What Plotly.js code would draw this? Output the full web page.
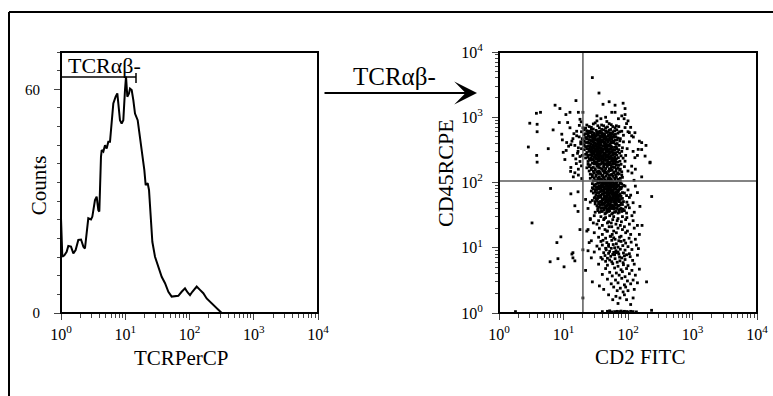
<!DOCTYPE html>
<html><head><meta charset="utf-8">
<script src="https://cdn.plot.ly/plotly-3.0.1.min.js"></script>
<style>html,body{margin:0;padding:0;background:#fff;}#chart{width:773px;height:396px;}</style>
</head><body><div id="chart"></div>
<script>
// ---------- Histogram (TCR PerCP) ----------
const histX = [1.00,1.049,1.127,1.225,1.30,1.43,1.556,1.69,1.86,2.05,2.23,2.36,2.54,2.66,2.93,3.07,3.38,3.59,3.81,3.95,4.19,4.30,4.56,4.84,5.14,5.45,5.79,6.15,6.52,7.09,7.53,7.80,8.28,8.79,9.33,9.91,10.28,10.77,11.44,11.86,12.59,13.36,14.18,15.61,16.98,18.45,19.82,20.79,22.34,23.43,25.17,26.40,29.05,32.7,36.9,41.6,46.9,52.8,59.5,67.0,75.5,85.1,93.6,101.8,110.7,121.8,129.4,145.6,164.1,184.9,208.4,234.9,264.7,298.5,316.8,330];
const histY = [25.4,15.1,15.5,16.4,18.0,17.8,16.0,16.9,19.6,19.7,17.8,17.3,22.3,25.4,25.1,25.8,30.3,31.2,27.6,27.2,41.9,43.7,43.3,45.0,44.1,45.9,45.9,52.6,56.2,58.0,58.9,56.2,51.7,50.8,51.7,59.8,63.4,58.0,58.9,60.2,59.8,57.1,53.5,51.7,47.3,42.8,38.3,34.3,34.8,33.0,24.9,19.1,15.1,12.4,9.7,8.0,5.7,4.4,4.4,4.6,5.7,6.6,5.5,4.8,5.7,6.6,7.1,6.2,5.3,3.9,3.0,2.1,1.3,0.4,0,0];
const gateLo = 1, gateHi = 14.7, gateY = 63.3, gateTickLo = 61.7, gateTickHi = 64.4;
const gateLabel = 'TCRαβ-';

// ---------- Scatter (CD2 FITC vs CD45RC PE) ----------
const coreX = [
 23,27,31,36,42,48,55,63,72,33, 21,25,29,34,39,45,51,58,67,80, 22,26,30,35,40,47,53,60,70,44,
 24,28,32,37,43,49,56,65,76,30, 20,23,27,31,35,40,46,52,59,68, 22,25,29,33,38,43,50,57,64,85,
 21,24,28,32,36,41,47,54,62,73, 23,26,30,34,39,44,51,58,67,34, 25,28,31,35,40,46,52,60,69,80,
 22,26,29,33,37,42,48,55,63,45, 24,27,32,36,41,47,53,61,71,38, 26,30,34,38,43,49,56,64,75,31,
 28,32,36,40,45,51,58,66,78,42, 25,29,33,37,42,48,54,62,70,88, 27,31,35,39,44,50,57,65,74,36,
 30,34,38,43,48,54,61,69,80,41, 32,36,41,46,52,58,66,76,28,49, 35,39,44,50,56,63,72,31,47,54,
 25,29,34,39,45,51,58,66,22,47, 23,27,32,37,42,48,54,62,74,28, 21,24,28,33,38,43,50,56,64,85,
 22,26,30,34,40,46,52,60,70,38, 21,25,29,33,37,43,49,55,63,75, 20,24,27,31,35,40,46,53,60,68,
 22,26,30,34,38,44,50,57,66,82, 21,24,28,32,36,41,47,54,62,72, 23,27,30,33,38,43,49,56,64,74,
 24,28,31,35,39,45,51,58,67,78, 22,25,30,34,39,44,50,57,66,84, 24,28,32,36,41,46,52,60,69,90,
 26,30,34,38,43,48,55,62,72,24, 27,31,35,40,45,51,58,66,76,23, 29,33,37,41,46,53,60,69,80,25,
 28,32,36,40,45,51,57,64,73,26, 30,34,38,43,49,55,62,70,26,82, 33,37,41,46,52,59,67,76,29,42];
const coreY = [
 760,700,820,690,740,710,770,690,720,880, 640,610,660,600,650,620,630,600,640,610, 560,580,540,570,550,590,560,540,570,520,
 510,490,520,500,480,510,490,500,470,460, 450,470,440,460,430,450,440,460,430,450, 410,400,420,390,410,400,380,410,390,420,
 370,360,350,370,355,365,350,360,345,370, 330,320,335,315,325,330,320,310,330,340, 300,290,305,285,295,300,290,280,295,300,
 270,265,275,260,268,272,262,258,270,250, 245,240,235,248,238,242,236,230,240,225, 220,215,212,222,218,210,216,205,212,200,
 198,195,190,200,192,188,196,185,190,180, 175,170,178,168,172,176,165,170,168,175, 158,155,150,160,152,148,156,150,154,145,
 140,138,135,142,136,132,140,134,130,128, 125,122,120,126,118,124,120,116,122,114, 112,110,108,113,106,110,105,107,104,109,
 720,790,740,760,690,800,720,740,680,860, 620,650,630,610,640,600,650,620,600,590, 540,560,530,550,580,540,530,560,550,530,
 490,500,480,470,505,485,475,495,480,520, 435,455,425,445,465,425,455,425,445,435, 395,415,385,405,385,415,395,385,405,395,
 355,345,365,350,340,355,365,345,355,340, 318,328,312,328,310,318,330,322,316,318, 288,298,282,298,288,282,302,292,286,282,
 262,272,258,270,258,262,272,266,262,256, 238,232,242,230,244,228,246,238,232,236, 210,222,206,216,208,220,204,214,206,212,
 186,192,184,194,186,196,182,192,184,190, 166,162,170,162,164,160,172,162,160,168, 148,146,142,150,144,152,144,140,146,150,
 132,130,138,128,140,128,134,130,136,134, 118,116,113,119,115,112,117,112,116,120, 106,104,107,103,105,103,102,104,106,101];

const denseX = [
 24,27,30,33,36,39,43,47,52,57, 25,28,31,34,37,41,45,50,55,61, 23,26,29,32,35,38,42,46,51,56,
 24,27,30,34,37,40,44,49,54,60, 26,29,32,35,38,42,46,50,55,44, 25,28,31,35,39,43,47,52,58,33,
 27,30,33,36,40,44,48,53,59,38, 28,31,34,37,41,45,49,54,62,47, 29,32,35,39,43,47,51,56,64,36,
 30,33,37,41,44,48,53,58,66,40];
const denseY = [
 575,585,565,590,570,580,560,585,575,565, 515,525,505,530,510,520,500,525,515,505, 465,445,470,450,460,440,470,455,445,465,
 405,425,400,420,410,430,400,420,410,425, 365,375,360,380,370,360,375,365,355,380, 325,335,320,340,330,322,338,328,318,345,
 290,300,286,296,292,284,298,288,282,305, 255,265,250,262,256,248,260,252,246,268, 225,232,220,228,224,218,230,222,216,235,
 195,200,190,198,194,188,200,192,186,205];

const upperLeftX = [3.8,4.4,3.0,3.9,3.9,2.85,3.84,3.9,5.8,6.9,7.4,8.8,10.9,12.6,15.6,8.6,9.4,9.6,11.6,12.6,11.2,9.9,10.5,12.9,14.2,15,17,18,17.6,19,16,14,13,17,18.5,16.5,15.5,19,18,17,
 14.5,16,17.5,19.5,13.5,15,18.5,19,16.8,12,11,14,19.5,18,15.8,13,17,19.2,20,18.8];
const upperLeftY = [1150,1190,810,780,600,350,260,205,330,640,1530,1360,1100,1190,1800,830,550,450,830,690,410,290,225,148,122,141,1190,930,750,600,520,470,380,340,420,280,230,180,250,160,
 560,610,500,470,430,370,390,330,300,360,310,260,260,210,195,170,130,115,690,850];

const outlierX = [28,35.5,41,51,63,84,90,63,56,80,90,87,71,33,20,128,114,150,190,163,128,220,114,163,124,45,38,100,110,95,105,120,140,100,115,97,92,100,130,90,105,121,163,219,184,144];
const outlierY = [4050,2350,1580,1730,1530,1640,1360,1190,1190,1050,1100,950,950,1050,1190,580,520,430,370,320,240,205,178,122,108,1000,950,880,700,800,420,300,260,150,140,330,260,600,160,695,582,498,409,200,254,322];

const streamX = [
 28,32,36,40,45,50,56,63,71,80, 30,34,38,43,48,54,60,67,75,90, 29,33,37,42,47,52,58,65,73,38,
 31,35,39,44,49,55,62,70,82,27, 32,36,40,45,50,56,63,72,95,44, 30,34,38,42,47,53,59,66,76,105,
 33,37,41,46,51,57,64,72,85,39, 35,39,43,48,53,59,66,75,31,55, 36,40,45,50,55,61,68,78,92,47,
 34,38,42,47,52,58,65,73,88,44, 30,34,39,43,48,53,60,67,76,86, 32,36,41,45,51,57,64,71,80,28,
 31,35,40,44,49,55,61,69,78,100, 33,37,42,47,52,58,66,75,88,29, 34,38,43,48,53,59,67,78,31,110,
 32,36,40,45,50,56,62,70,82,28, 35,39,44,49,54,60,68,78,96,31, 37,41,46,51,57,63,71,82,33,100,
 38,42,47,52,58,64,72,84,34,105, 36,40,45,50,56,62,70,80,95,31,
 39,44,49,54,60,66,41,46,51,57,63,70, 38,43,48,53,59,65,42,47,52,58,64,71, 40,45,50,55,61,68,43,48,53,59,65,74,
 41,46,51,56,62,69,44,49,54,60,66,73, 42,47,52,57,63,70,45,50,55,61,67,76];
const streamY = [
 96,94,98,92,95,97,93,96,92,95, 88,86,90,84,87,85,89,86,84,88, 80,78,82,77,79,81,76,80,78,75,
 72,70,74,69,71,73,68,72,70,74, 65,63,66,62,64,66,61,64,63,60, 58,57,60,56,59,55,58,57,55,59,
 53,51,54,50,52,54,50,52,51,49, 47,46,48,45,47,44,46,45,47,43, 42,41,43,40,42,39,41,40,42,38,
 37,36,38,35,37,34,36,35,37,33, 92,97,90,96,91,93,90,91,97,90, 84,88,85,89,83,88,84,89,85,83,
 77,80,76,80,76,78,79,76,80,77, 70,72,68,71,70,69,71,67,69,69, 62,64,61,65,61,63,62,62,60,64,
 56,59,55,58,56,57,56,59,57,53, 50,52,49,53,50,51,53,49,50,51, 45,47,44,46,45,47,44,46,44,45,
 40,41,39,42,40,41,38,39,40,41, 35,36,34,36,33,35,34,36,34,35,
 99,97,100,98,96,99,90,92,89,91,93,88, 82,84,81,83,85,80,75,73,76,74,72,75, 67,69,66,68,65,67,61,63,60,62,64,61,
 56,54,57,55,53,56,51,49,52,50,48,51, 46,44,45,43,46,44,41,39,40,42,40,39];

const midX = [
 30,38,45,52,60,70,82,96,115,42, 26,35,43,50,58,68,79,92,120,55, 33,40,48,56,65,76,88,105,140,29,
 36,44,51,60,70,82,98,125,24,47, 30,40,48,57,66,78,92,110,150,53, 35,45,54,63,74,87,104,130,41,60,
 38,47,56,66,78,92,112,27,50,72, 40,50,59,70,83,100,135,33,62,45, 36,46,55,65,76,90,115,145,52,70,
 42,50,60,72,85,105,30,58,66,95, 44,54,62,74,88,108,140,38,80,48, 40,52,63,75,90,118,56,68,84,45];
const midY = [
 31,30,29,31,30,28,30,29,31,27, 27,26,28,25,27,26,25,27,26,24, 23,22,24,21,23,22,21,23,22,24,
 20,19,21,18,20,19,18,20,19,18, 17,16,18,16,17,15,17,16,16,15, 14.5,14,15,13.5,14.5,13,14,13.5,13,14.2,
 12.5,12,13,11.5,12.5,11.8,12.2,12.8,11.2,12.8, 11,10.5,11.2,10.2,10.8,10.4,11,10.6,10,9.8, 9.6,9.3,9.8,9,9.5,9.2,9.4,9.7,8.8,8.6,
 8.4,8.2,8.5,8,8.3,8.1,8.6,7.9,8.4,7.8, 7.6,7.4,7.8,7.2,7.5,7.3,7.7,7.1,7,6.9, 6.7,6.5,6.8,6.3,6.6,6.4,6.1,6,5.9,6.2];

const lowX = [35,48,58,70,85,100,125,45,62,78,95,115,150,52,66,82,105,40,57,73,90,130,48,64,80,98,120,55,70,88,110,140,60,76,92,42,68,84,100,125,50,65,88,58,75,95,120,36,70,110,
 1.8,40,48,56,62,68,74,82,88,95,100,110,120,135,232,52,78];
const lowY = [5.6,5.4,5.7,5.2,5.5,5.3,5.6,4.8,4.9,4.6,4.8,4.5,4.7,4.2,4.1,4.3,4,3.9,3.7,3.8,3.6,3.8,3.3,3.2,3.4,3.1,3.2,2.8,2.9,2.7,2.8,2.9,2.5,2.4,2.5,2.3,2.2,2.1,2.2,2.3,1.9,1.8,1.9,1.6,1.7,1.6,1.7,2.6,1.4,1.35,
 1.05,1.05,1.06,1.04,1.05,1.06,1.05,1.04,1.06,1.05,1.04,1.06,1.05,1.04,1.1,1.08,1.07];

const sparseX = [6.3,13,16.8,15,16.8,3.25,9.1,7.9,14,8.2,6.2,10.2,15,18,20,20,13.5,14, 22,24,26,23,25,27,22,28,24,26, 233,194,120,153,140,130,165,125];
const sparseY = [81,67,72,44,36,24,14.7,12,8.4,6.8,6.1,5.1,6.3,19,9.3,1.7,8,7, 55,40,28,18,12,7,4.5,3,9,50, 61,3,49,43,70,88,22,35];

const quadX = 20, quadY = 105;
const logTickVals = [1,10,100,1000,10000];
const logExponents = ['0','1','2','3','4'];
const countTickVals = [0,60];
const countTickText = ['0','60'];

const cd2 = [].concat(coreX, denseX, upperLeftX, outlierX, streamX, midX, lowX, sparseX);
const cd45 = [].concat(coreY, denseY, upperLeftY, outlierY, streamY, midY, lowY, sparseY);

// ---------- figure ----------
const W = 773, H = 396;
const px = v => v / W, py = v => 1 - v / H;
const FONT = 'Liberation Serif, Times New Roman, serif';
const logTickText = logExponents.map(e => '10<sup>' + e + '</sup>');

const traces = [
  {x: histX, y: histY, type: 'scatter', mode: 'lines', line: {color: '#000', width: 2}, xaxis: 'x', yaxis: 'y'},
  {x: [gateLo, gateHi, null, gateHi, gateHi, null, gateLo, gateLo], y: [gateY, gateY, null, gateTickLo, gateTickHi, null, gateTickLo, gateTickHi],
   type: 'scatter', mode: 'lines', line: {color: '#000', width: 1.5}, xaxis: 'x', yaxis: 'y'},
  {x: cd2, y: cd45, type: 'scatter', mode: 'markers', marker: {symbol: 'square', size: 2.8, color: '#000'},
   xaxis: 'x2', yaxis: 'y2'},
  {x: [quadX, quadX, null, 1, 10000], y: [1, 10000, null, quadY, quadY], type: 'scatter', mode: 'lines',
   line: {color: '#5a5a5a', width: 1.5}, xaxis: 'x2', yaxis: 'y2'}
];

const yDom = [(H - 313) / H, (H - 52) / H];
const xDom1 = [px(61), px(318)], xDom2 = [px(499), px(757)];
const noGrid = 'rgba(0,0,0,0)';
const logAxis = (dom, anchor, standoff) => ({
  type: 'log', range: [0, 4], domain: dom, anchor: anchor, tickmode: 'array', tickvals: logTickVals, ticktext: logTickText,
  ticks: 'outside', ticklen: 6, tickfont: {family: FONT, size: 16, color: '#000'}, ticklabelstandoff: standoff,
  minor: {ticks: 'outside', ticklen: 3.5, dtick: 'D1'}, showline: true, gridcolor: noGrid
});

const frameRect = (xd) => ({type: 'rect', xref: 'paper', yref: 'paper', x0: xd[0], x1: xd[1], y0: yDom[0], y1: yDom[1],
  line: {color: '#000', width: 2}, fillcolor: 'rgba(0,0,0,0)'});

const layout = {
  width: W, height: H, margin: {l: 0, r: 0, t: 0, b: 0}, showlegend: false,
  font: {family: FONT, size: 15, color: '#000'},
  xaxis: logAxis(xDom1, 'y', 1),
  yaxis: {range: [0, 70], domain: yDom, anchor: 'x', tickmode: 'array', tickvals: countTickVals, ticktext: countTickText,
    ticks: 'outside', ticklen: 6, tickfont: {family: FONT, size: 15, color: '#000'}, ticklabelstandoff: 11,
    minor: {ticks: 'outside', ticklen: 3.5, dtick: 5}, showline: true, gridcolor: noGrid},
  xaxis2: logAxis(xDom2, 'y2', 1),
  yaxis2: logAxis(yDom, 'x2', 6),
  shapes: [
    frameRect(xDom1), frameRect(xDom2),
    {type: 'line', xref: 'paper', yref: 'paper', x0: px(9), x1: 1.01, y0: py(12), y1: py(12), line: {color: '#000', width: 2}},
    {type: 'line', xref: 'paper', yref: 'paper', x0: px(9), x1: px(9), y0: -0.01, y1: py(12), line: {color: '#000', width: 2}}
  ],
  annotations: [
    {xref: 'paper', yref: 'paper', x: px(181), y: py(358), text: 'TCRPerCP', showarrow: false, xanchor: 'center', yanchor: 'middle', font: {family: FONT, size: 21, color: '#000'}},
    {xref: 'paper', yref: 'paper', x: px(640), y: py(357), text: 'CD2 FITC', showarrow: false, xanchor: 'center', yanchor: 'middle', font: {family: FONT, size: 21, color: '#000'}},
    {xref: 'paper', yref: 'paper', x: px(38.7), y: py(185.5), text: 'Counts', textangle: -90, showarrow: false, xanchor: 'center', yanchor: 'middle', font: {family: FONT, size: 21, color: '#000'}},
    {xref: 'paper', yref: 'paper', x: px(445), y: py(173), text: 'CD45RCPE', textangle: -90, showarrow: false, xanchor: 'center', yanchor: 'middle', font: {family: FONT, size: 22, color: '#000'}},
    {xref: 'paper', yref: 'paper', x: px(66), y: py(66), text: gateLabel, showarrow: false, xanchor: 'left', yanchor: 'middle', font: {family: FONT, size: 22, color: '#000'}},
    {xref: 'paper', yref: 'paper', x: px(394), y: py(77), text: gateLabel, showarrow: false, xanchor: 'center', yanchor: 'middle', font: {family: FONT, size: 25, color: '#000'}},
    {xref: 'paper', yref: 'paper', x: px(477), y: py(93), text: '', showarrow: true, ax: -154, ay: 0, axref: 'pixel', ayref: 'pixel',
     arrowhead: 3, arrowsize: 1.9, arrowwidth: 2, arrowcolor: '#000', standoff: 0, startstandoff: 0}
  ]
};

Plotly.newPlot('chart', traces, layout, {staticPlot: true});
</script>
</body></html>
